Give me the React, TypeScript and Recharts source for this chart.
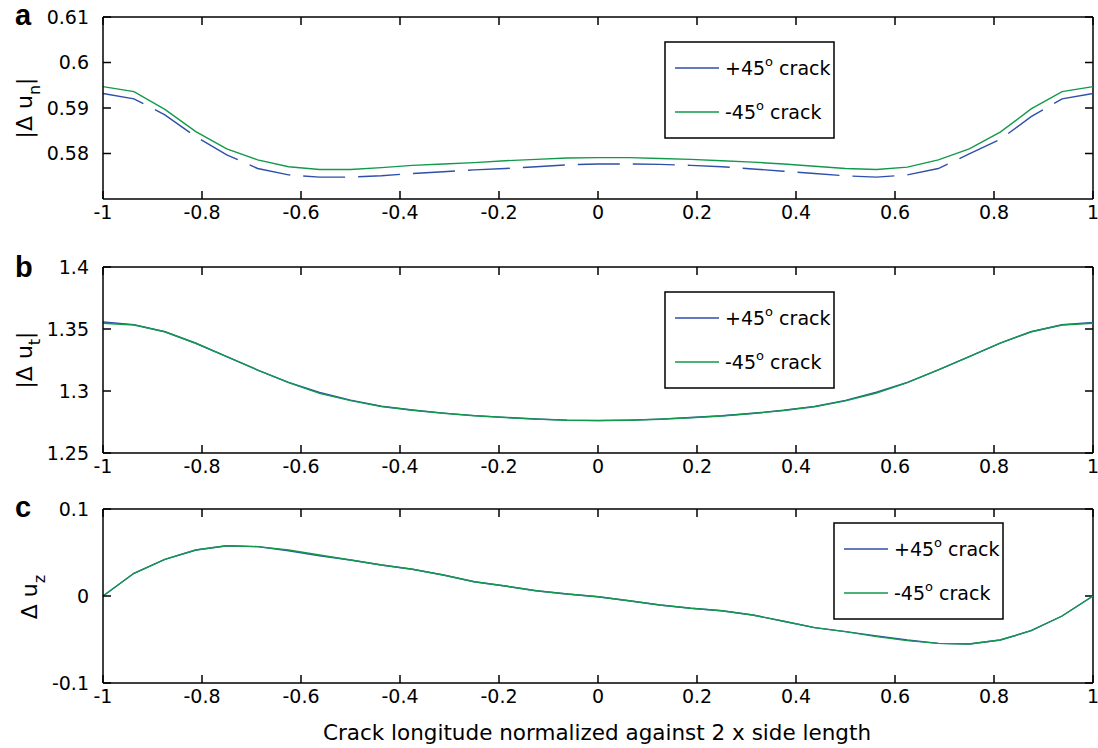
import React from "react";
import { Line, LineChart, ReferenceLine, XAxis, YAxis } from "recharts";

// Position along the crack, normalized against 2 x side length (step 1/16).
const X_VALUES = [
  -1, -0.9375, -0.875, -0.8125, -0.75, -0.6875, -0.625, -0.5625, -0.5,
  -0.4375, -0.375, -0.3125, -0.25, -0.1875, -0.125, -0.0625, 0, 0.0625,
  0.125, 0.1875, 0.25, 0.3125, 0.375, 0.4375, 0.5, 0.5625, 0.625, 0.6875,
  0.75, 0.8125, 0.875, 0.9375, 1,
];

// Panel a: |Δ u|n
const NORMAL_PLUS45 = [
  0.5932, 0.592, 0.5885, 0.5837, 0.5797, 0.5767, 0.5753, 0.5748, 0.5748,
  0.5751, 0.5756, 0.576, 0.5764, 0.5767, 0.5771, 0.5775, 0.5777, 0.5777,
  0.5776, 0.5774, 0.5771, 0.5766, 0.5761, 0.5756, 0.5751, 0.5748, 0.5753,
  0.5767, 0.5799, 0.5831, 0.5881, 0.592, 0.5932,
];
const NORMAL_MINUS45 = [
  0.5947, 0.5936, 0.5897, 0.5848, 0.581, 0.5786, 0.5771, 0.5765, 0.5765,
  0.5769, 0.5774, 0.5777, 0.578, 0.5784, 0.5787, 0.579, 0.5791, 0.5791,
  0.5789, 0.5787, 0.5784, 0.5781, 0.5777, 0.5772, 0.5767, 0.5765, 0.577,
  0.5786, 0.581, 0.5847, 0.5898, 0.5936, 0.5947,
];

// Panel b: |Δ u|t
const TANGENT_PLUS45 = [
  1.3556, 1.3535, 1.3478, 1.3385, 1.3277, 1.3169, 1.307, 1.2988, 1.2926,
  1.2877, 1.2847, 1.2822, 1.2801, 1.2787, 1.2774, 1.2765, 1.2762, 1.2765,
  1.2773, 1.2786, 1.28, 1.282, 1.2845, 1.2876, 1.2924, 1.299, 1.307, 1.317,
  1.3278, 1.3386, 1.3478, 1.3534, 1.3552,
];
const TANGENT_MINUS45 = [
  1.3546, 1.3532, 1.3478, 1.3385, 1.3277, 1.3169, 1.3067, 1.2981, 1.2922,
  1.2875, 1.2845, 1.282, 1.28, 1.2786, 1.2773, 1.2764, 1.2761, 1.2764,
  1.2772, 1.2784, 1.2798, 1.2818, 1.2843, 1.2873, 1.292, 1.2984, 1.3068,
  1.317, 1.3278, 1.3386, 1.3478, 1.3532, 1.3546,
];

// Panel c: Δ uz
const VERTICAL_PLUS45 = [
  0, 0.0261, 0.0422, 0.0529, 0.0578, 0.0567, 0.052, 0.0462, 0.0414, 0.0356,
  0.0307, 0.0241, 0.0164, 0.0115, 0.0061, 0.0023, -0.0008, -0.0054, -0.0103,
  -0.0141, -0.0169, -0.0218, -0.029, -0.0364, -0.041, -0.0458, -0.0505,
  -0.0544, -0.0552, -0.0506, -0.0399, -0.023, 0,
];
const VERTICAL_MINUS45 = [
  0, 0.0261, 0.0422, 0.0529, 0.0578, 0.0567, 0.0529, 0.0471, 0.0414, 0.0356,
  0.0307, 0.0241, 0.0164, 0.0115, 0.0061, 0.0023, -0.0008, -0.0054, -0.0103,
  -0.0141, -0.0169, -0.0218, -0.029, -0.0364, -0.041, -0.0467, -0.0513,
  -0.0544, -0.0552, -0.0506, -0.0399, -0.023, 0,
];

const X_TICKS = [-1, -0.8, -0.6, -0.4, -0.2, 0, 0.2, 0.4, 0.6, 0.8, 1];
const NORMAL_TICKS = [0.58, 0.59, 0.6, 0.61];
const TANGENT_TICKS = [1.25, 1.3, 1.35, 1.4];
const VERTICAL_TICKS = [-0.1, 0, 0.1];

const FONT = "'DejaVu Sans', sans-serif";
const BLUE = "#2f4fa8";
const GREEN = "#13994b";
const W = 1098;
const PLOT_LEFT = 103;
const PLOT_RIGHT = 1093;
const TICK_PX = 8;
const X_MARGIN = 6;
const Y_MARGIN = 14;

const toRows = (plus: number[], minus: number[]) =>
  X_VALUES.map((x, i) => ({ x, plus: plus[i], minus: minus[i] }));

// Bottom axis: inward tick mark above the axis line, label below it.
const bottomTick = (p: any) => (
  <g>
    <line
      stroke="#000"
      strokeWidth={1.5}
      x1={p.x}
      x2={p.x}
      y1={p.y - X_MARGIN}
      y2={p.y - X_MARGIN - TICK_PX}
    />
    <text dy="0.75em" fill="#000" fontFamily={FONT} fontSize={19} textAnchor="middle" x={p.x} y={p.y}>
      {String(p.payload.value)}
    </text>
  </g>
);

// Left axis: inward tick mark right of the axis line, label to its left.
const leftTick = (p: any) => (
  <g>
    <line
      stroke="#000"
      strokeWidth={1.5}
      x1={p.x + Y_MARGIN}
      x2={p.x + Y_MARGIN + TICK_PX}
      y1={p.y}
      y2={p.y}
    />
    <text dy="0.36em" fill="#000" fontFamily={FONT} fontSize={19} textAnchor="end" x={p.x} y={p.y}>
      {String(p.payload.value)}
    </text>
  </g>
);

interface PanelProps {
  top: number;
  height: number;
  plotTop: number;
  plotBottom: number;
  rows: { x: number; plus: number; minus: number }[];
  yDomain: [number, number];
  yTicks: number[];
  plusDash?: string;
}

const Panel: React.FC<PanelProps> = ({
  top, height, plotTop, plotBottom, rows, yDomain, yTicks, plusDash,
}) => {
  const [y0, y1] = yDomain;
  // inward tick length on the top and right edges, in data units
  const dy = (TICK_PX * (y1 - y0)) / (plotBottom - plotTop);
  const dx = (TICK_PX * 2) / (PLOT_RIGHT - PLOT_LEFT);

  return (
    <div style={{ position: "absolute", left: 0, top }}>
      <LineChart
        data={rows}
        height={height}
        margin={{ top: plotTop - top, right: W - PLOT_RIGHT, bottom: 0, left: 0 }}
        style={{ fontFamily: FONT }}
        width={W}
      >
        <XAxis
          dataKey="x"
          domain={[-1, 1]}
          height={top + height - plotBottom}
          interval={0}
          stroke="#000"
          strokeWidth={1.5}
          tick={bottomTick}
          tickLine={false}
          tickMargin={X_MARGIN}
          tickSize={0}
          ticks={X_TICKS}
          type="number"
        />
        <YAxis
          domain={yDomain}
          interval={0}
          stroke="#000"
          strokeWidth={1.5}
          tick={leftTick}
          tickLine={false}
          tickMargin={Y_MARGIN}
          tickSize={0}
          ticks={yTicks}
          type="number"
          width={PLOT_LEFT}
        />
        {/* frame: top and right edges */}
        <ReferenceLine ifOverflow="visible" stroke="#000" strokeWidth={1.5} y={y1} />
        <ReferenceLine ifOverflow="visible" stroke="#000" strokeWidth={1.5} x={1} />
        {X_TICKS.map((t) => (
          <ReferenceLine
            key={`t${t}`}
            ifOverflow="visible"
            segment={[{ x: t, y: y1 }, { x: t, y: y1 - dy }]}
            stroke="#000"
            strokeWidth={1.5}
          />
        ))}
        {yTicks.map((v) => (
          <ReferenceLine
            key={`r${v}`}
            ifOverflow="visible"
            segment={[{ x: 1, y: v }, { x: 1 - dx, y: v }]}
            stroke="#000"
            strokeWidth={1.5}
          />
        ))}
        <Line
          dataKey="plus"
          dot={false}
          isAnimationActive={false}
          stroke={BLUE}
          strokeDasharray={plusDash}
          strokeWidth={1.4}
          type="linear"
        />
        <Line
          dataKey="minus"
          dot={false}
          isAnimationActive={false}
          stroke={GREEN}
          strokeWidth={1.4}
          type="linear"
        />
      </LineChart>
    </div>
  );
};

const LegendBox: React.FC<{ x: number; y: number }> = ({ x, y }) => {
  const rows = [
    { label: "+45", color: BLUE, dy: 26 },
    { label: "-45", color: GREEN, dy: 70 },
  ];
  return (
    <g>
      <rect x={x} y={y} width={169} height={96} fill="#fff" stroke="#000" strokeWidth={1.5} />
      {rows.map((r) => (
        <g key={r.label}>
          <line x1={x + 10} x2={x + 54} y1={y + r.dy} y2={y + r.dy} stroke={r.color} strokeWidth={1.4} />
          <text x={x + 60} y={y + r.dy + 7} fontSize={19} fontFamily={FONT} fill="#000">
            {r.label}
            <tspan dy={-9} fontSize={13}>o</tspan>
            <tspan dy={9}> crack</tspan>
          </text>
        </g>
      ))}
    </g>
  );
};

const YLabel: React.FC<{ x: number; y: number; pre: string; sub: string; post?: string }> = ({
  x, y, pre, sub, post,
}) => (
  <text
    fill="#000"
    fontFamily={FONT}
    fontSize={22}
    textAnchor="middle"
    transform={`translate(${x}, ${y}) rotate(-90)`}
  >
    {pre}
    <tspan dy={8} fontSize={16}>{sub}</tspan>
    {post && <tspan dy={-8}>{post}</tspan>}
  </text>
);

export default function App() {
  const letter = { fontFamily: "'Liberation Sans', Arial, sans-serif", fontWeight: 700, fontSize: 29 };

  return (
    <div style={{ position: "absolute", left: 0, top: 0, width: W, height: 748, background: "#fff" }}>
      <Panel
        height={240}
        plotBottom={199}
        plotTop={17}
        plusDash="42 13"
        rows={toRows(NORMAL_PLUS45, NORMAL_MINUS45)}
        top={0}
        yDomain={[0.57, 0.61]}
        yTicks={NORMAL_TICKS}
      />
      <Panel
        height={245}
        plotBottom={453}
        plotTop={267}
        rows={toRows(TANGENT_PLUS45, TANGENT_MINUS45)}
        top={250}
        yDomain={[1.25, 1.4]}
        yTicks={TANGENT_TICKS}
      />
      <Panel
        height={253}
        plotBottom={683}
        plotTop={509}
        rows={toRows(VERTICAL_PLUS45, VERTICAL_MINUS45)}
        top={495}
        yDomain={[-0.1, 0.1]}
        yTicks={VERTICAL_TICKS}
      />
      <svg
        height={748}
        style={{ position: "absolute", left: 0, top: 0, pointerEvents: "none" }}
        width={W}
      >
        <text x={15} y={25} {...letter}>a</text>
        <text x={15} y={277} {...letter}>b</text>
        <text x={15} y={517} {...letter}>c</text>
        <YLabel x={32} y={108} pre="|Δ u" sub="n" post="|" />
        <YLabel x={32} y={360} pre="|Δ u" sub="t" post="|" />
        <YLabel x={37} y={597} pre="Δ u" sub="z" />
        <LegendBox x={665} y={42} />
        <LegendBox x={665} y={292} />
        <LegendBox x={834} y={523} />
        <text x={597} y={740} textAnchor="middle" fontSize={21.5} fontFamily={FONT} fill="#000">
          Crack longitude normalized against 2 x side length
        </text>
      </svg>
    </div>
  );
}
